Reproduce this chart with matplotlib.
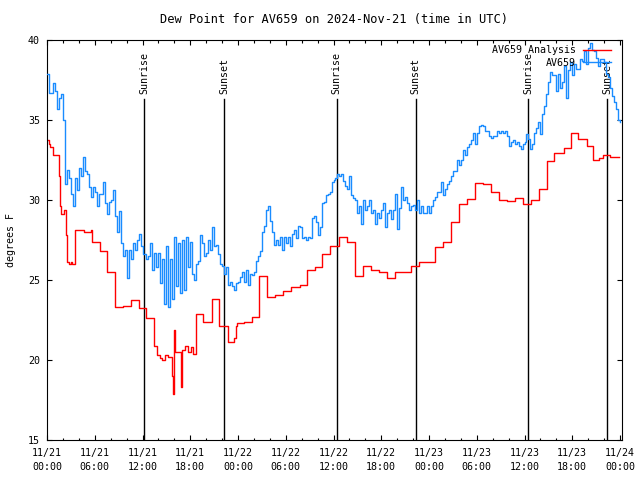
import numpy as np
import matplotlib
matplotlib.use("Agg")
import matplotlib.pyplot as plt
import matplotlib.dates as mdates
import matplotlib.transforms as mtransforms

plt.rcParams['font.family'] = ['DejaVu Sans Mono']
plt.rcParams['font.size'] = 7.2

title = "Dew Point for AV659 on 2024-Nov-21 (time in UTC)"
start = np.datetime64('2024-11-21T00:00')

# AV659 observations, every 15 minutes from 11/21 00:00 (deg F)
station_step_min = 15
station_vals = [
    37.9, 36.7, 36.7, 37.3, 36.8, 35.7, 36.4, 36.6, 35.0, 31.0, 31.9, 31.4,
    30.4, 29.6, 31.4, 30.6, 32.0, 31.5, 32.7, 31.8, 31.6, 30.8, 30.2, 30.8,
    30.5, 29.6, 30.4, 30.4, 31.1, 29.8, 29.1, 29.9, 30.0, 30.6, 29.0, 28.0,
    29.3, 27.3, 26.5, 26.9, 25.1, 26.9, 26.3, 27.3, 26.9, 27.5, 27.9, 27.1,
    26.6, 26.6, 26.3, 26.5, 27.3, 25.6, 26.7, 25.8, 26.7, 24.8, 26.3, 23.5,
    27.1, 23.3, 26.3, 23.8, 27.7, 24.6, 27.3, 24.2, 27.5, 24.4, 27.7, 25.8,
    27.4, 25.4, 25.0, 26.0, 26.2, 27.8, 27.3, 26.5, 26.7, 27.5, 26.9, 28.3,
    27.1, 27.2, 26.6, 26.0, 25.9, 25.4, 25.8, 24.7, 24.9, 24.6, 24.4, 24.8,
    24.9, 25.2, 25.5, 24.9, 25.6, 24.7, 25.4, 25.3, 25.5, 26.2, 26.5, 26.8,
    28.0, 28.4, 29.4, 29.6, 28.7, 28.0, 27.2, 27.5, 27.2, 27.7, 26.9, 27.7,
    27.3, 27.7, 27.1, 27.9, 28.1, 27.6, 28.4, 28.3, 27.6, 27.7, 27.5, 27.7,
    27.6, 28.9, 29.0, 28.6, 27.8, 28.3, 29.8, 29.9, 30.3, 30.4, 30.5, 31.1,
    31.25, 31.4, 31.6, 31.5, 31.6, 31.2, 30.9, 30.7, 31.5, 30.3, 30.1, 30.0,
    29.2, 29.6, 28.5, 30.0, 29.4, 29.6, 30.0, 29.2, 29.4, 28.5, 29.2, 28.9,
    29.4, 29.8, 28.3, 29.2, 29.4, 28.8, 29.4, 30.4, 28.2, 29.5, 30.8, 30.0,
    30.2, 29.8, 29.4, 29.6, 29.7, 29.4, 30.0, 29.2, 29.6, 29.2, 29.2, 29.6,
    29.2, 29.6, 30.0, 30.2, 30.5, 30.5, 31.1, 30.3, 30.7, 31.0, 31.2, 31.5,
    31.8, 31.8, 32.5, 32.2, 32.5, 33.1, 32.8, 33.3, 33.5, 33.75, 34.2, 33.5,
    34.2, 34.6, 34.7, 34.6, 34.3, 34.3, 34.0, 33.9, 34.0, 34.0, 34.3, 34.2,
    34.3, 34.2, 34.3, 34.0, 33.4, 33.6, 33.75, 33.5, 33.6, 33.4, 33.2, 33.5,
    33.6, 34.1, 33.8, 33.2, 33.5, 34.2, 34.5, 34.9, 34.1, 35.4, 35.9, 36.6,
    37.4, 38.0, 37.8, 37.8, 36.8, 37.9, 37.0, 37.4, 38.4, 36.35, 38.1, 38.6,
    37.8, 38.5, 38.2, 38.2, 38.8, 38.7, 39.3, 38.5, 39.5, 39.8, 39.4, 39.3,
    38.9, 38.4, 38.8, 38.8, 38.6, 37.9, 37.7, 37.0, 36.5, 36.1, 35.7, 35.0,
    34.9,
]

# analysis values: hours after 11/21 00:00 where the value changes, and the value
analysis_hours = [
    0.0, 0.2, 0.4, 0.7, 1.55, 1.65, 1.75, 2.15, 2.4, 2.55, 2.8, 3.0, 3.2,
    3.5, 4.7, 5.5, 5.7, 6.6, 7.5, 8.6, 9.5, 10.5, 11.6, 12.5, 13.5, 13.8,
    14.2, 14.5, 14.8, 15.2, 15.7, 15.85, 15.95, 16.05, 16.8, 16.95, 17.4,
    17.7, 18.1, 18.4, 18.7, 19.6, 20.7, 21.6, 22.7, 23.5, 23.7, 23.9, 24.7,
    25.7, 26.7, 27.6, 28.6, 29.7, 30.7, 31.8, 32.7, 33.7, 34.6, 35.6, 36.7,
    37.7, 38.7, 39.7, 40.7, 41.7, 42.75, 43.7, 45.7, 46.7, 48.7, 49.8, 50.75,
    51.8, 52.8, 53.75, 54.8, 55.8, 56.8, 57.8, 58.8, 59.8, 60.8, 61.8, 62.8,
    63.7, 64.9, 65.9, 66.7, 67.8, 68.6, 69.3, 69.8, 70.7, 71.9,
]
analysis_vals = [
    33.75, 33.5, 33.3, 32.8, 31.5, 29.6, 29.1, 29.4, 27.8, 26.1, 26.0, 26.1, 26.0,
    28.1, 28.0, 28.15, 27.4, 26.8, 25.5, 23.3, 23.4, 23.75, 23.25, 22.6, 20.9, 20.3,
    20.1, 20.0, 20.3, 20.2, 19.0, 17.9, 21.9, 20.5, 18.3, 20.6, 20.9,
    20.5, 20.8, 20.4, 22.9, 22.4, 23.8, 22.1, 21.1, 21.4, 22.1, 22.3, 22.4,
    22.7, 25.25, 23.96, 24.06, 24.3, 24.54, 24.7, 25.6, 25.8, 26.6, 27.14, 27.67,
    27.35, 25.27, 25.86, 25.6, 25.48, 25.1, 25.48, 25.875, 26.1, 27.06, 27.4, 28.6,
    29.73, 30.04, 31.05, 31.0, 30.5, 30.0, 29.94, 30.1, 29.73, 30.0, 30.7, 32.44,
    32.96, 33.23, 34.17, 33.8, 33.35, 32.5, 32.6, 32.8, 32.67, 32.67,
]

# sunrise / sunset, hours after 11/21 00:00
sun_events = ["Sunrise", "Sunset", "Sunrise", "Sunset", "Sunrise", "Sunset"]
sun_hours = [12.19, 22.28, 36.39, 46.32, 60.47, 70.39]

def hours_to_time(h):
    return start + (np.asarray(h) * 60).round().astype('timedelta64[m]')

station_t = start + np.arange(len(station_vals)) * np.timedelta64(station_step_min, 'm')
analysis_t = hours_to_time(analysis_hours)
sun_t = hours_to_time(sun_hours)

fig = plt.figure(figsize=(6.4, 4.8), dpi=100)
ax = fig.add_axes([47 / 640, 40 / 480, 575 / 640, 400 / 480])

trans = mtransforms.blended_transform_factory(ax.transData, ax.transAxes)
for name, t in zip(sun_events, sun_t):
    ax.plot([t, t], [0, 0.8525], color='black', lw=1.0, transform=trans, zorder=1)
    ax.text(t, 0.865, name, rotation=90, ha='center', va='bottom',
            transform=trans, zorder=1)

ax.plot(analysis_t, analysis_vals, drawstyle='steps-post', color='#ff0000',
        lw=1.0, label='AV659 Analysis', zorder=2)
ax.plot(station_t, station_vals, drawstyle='steps-post', color='#1a8cff',
        lw=1.0, label='AV659', zorder=3)

ax.set_xlim(start, start + np.timedelta64(72 * 60 + 15, 'm'))
ax.set_ylim(15, 40)
ax.set_yticks([15, 20, 25, 30, 35, 40])
ax.xaxis.set_major_locator(mdates.HourLocator(byhour=[0, 6, 12, 18]))
ax.xaxis.set_minor_locator(mdates.HourLocator(byhour=range(0, 24, 2)))
ax.xaxis.set_major_formatter(mdates.DateFormatter('%m/%d\n%H:%M'))
ax.tick_params(which='both', direction='in', top=True, right=True, width=0.8)
ax.tick_params(axis='y', which='major', length=3.3, pad=5)
ax.tick_params(axis='x', which='major', length=3.3, pad=6)
ax.tick_params(which='minor', length=1.8)
for lbl in ax.get_xticklabels():
    lbl.set_linespacing(1.4)
for sp in ax.spines.values():
    sp.set_linewidth(0.8)

ax.set_title(title, pad=12)
ax.set_ylabel("degrees F", labelpad=9)

ax.legend(loc='upper right', bbox_to_anchor=(611 / 640, 1 - 45 / 480),
          bbox_transform=fig.transFigure, frameon=False, markerfirst=False,
          handlelength=2.8, handletextpad=0.7, labelspacing=0.25,
          borderpad=0, borderaxespad=0)

fig.savefig("out.png", dpi=100)
